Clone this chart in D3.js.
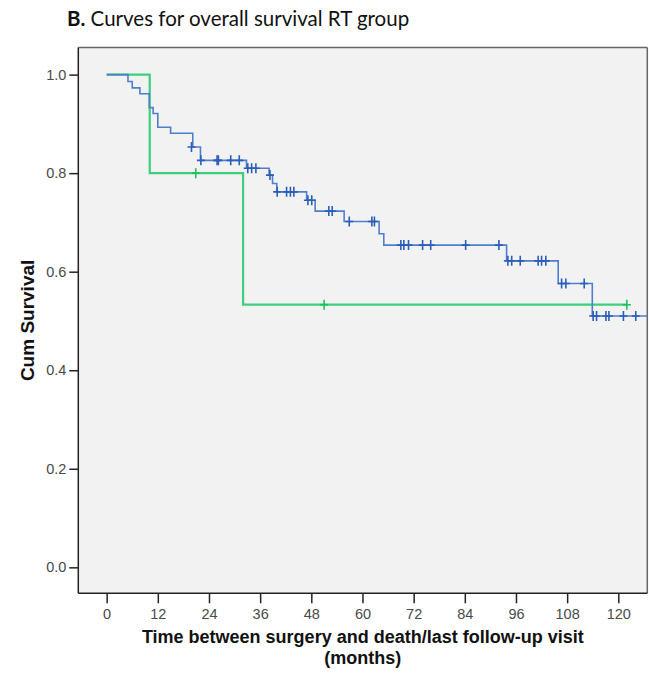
<!DOCTYPE html>
<html><head><meta charset="utf-8">
<script src="https://cdn.jsdelivr.net/npm/d3@7"></script>
<style>body{margin:0;background:#fff}svg{display:block}</style>
</head><body>
<svg id="c" width="649" height="678"></svg>
<script>
// ---- data ----
const xTicks = [0, 12, 24, 36, 48, 60, 72, 84, 96, 108, 120];
const yTicks = [0.0, 0.2, 0.4, 0.6, 0.8, 1.0];
// blue group (RT) step times and survival after each step
const blueTimes = [0, 5.0, 6.0, 7.8, 10.0, 10.9, 12.0, 15.0, 20.2, 22.0, 32.8, 38.1, 38.9, 39.9, 46.9, 48.9, 55.7, 63.9, 65.0, 93.8, 105.9, 113.9];
const blueSurv  = [1.0, 0.986, 0.973, 0.961, 0.933, 0.921, 0.893, 0.881, 0.853, 0.826, 0.810, 0.796, 0.779, 0.762, 0.745, 0.723, 0.702, 0.677, 0.654, 0.622, 0.576, 0.510];
const blueEnd = 127;
const blueCensT = [19.9, 22.1, 25.9, 26.2, 29.1, 31.1, 33.1, 34.0, 35.0, 38.3, 40.0, 42.2, 43.1, 43.9, 47.2, 48.1, 52.1, 52.9, 56.9, 62.2, 62.8, 69.0, 69.7, 70.8, 74.1, 76.0, 84.2, 92.0, 94.1, 95.0, 97.0, 101.2, 102.0, 103.0, 106.7, 107.7, 112.0, 114.1, 114.9, 117.1, 117.8, 121.2, 124.1];
const blueCensS = [0.853, 0.826, 0.826, 0.826, 0.826, 0.826, 0.810, 0.810, 0.810, 0.796, 0.762, 0.762, 0.762, 0.762, 0.745, 0.745, 0.723, 0.723, 0.702, 0.702, 0.702, 0.654, 0.654, 0.654, 0.654, 0.654, 0.654, 0.654, 0.622, 0.622, 0.622, 0.622, 0.622, 0.622, 0.576, 0.576, 0.576, 0.510, 0.510, 0.510, 0.510, 0.510, 0.510];
// green group
const greenTimes = [0, 10.1, 32.0];
const greenSurv  = [1.0, 0.8, 0.533];
const greenEnd = 122.0;
const greenCensT = [20.9, 51.0, 122.0];
const greenCensS = [0.8, 0.533, 0.533];

// ---- layout ----
const L = 78.3, R = 647.3, T = 47.5, B = 593.3;
const svg = d3.select("#c");
const x = d3.scaleLinear().domain([-6.65, 126.8]).range([L, R]);
const y = d3.scaleLinear().domain([-0.0527, 1.055]).range([B, T]);

svg.append("text").attr("x", 67).attr("y", 26)
  .style("font-family", "Lato, 'Open Sans', sans-serif").style("font-size", "20.5px").attr("fill", "#111")
  .call(t => { t.append("tspan").attr("font-weight", "bold").text("B.");
               t.append("tspan").text(" Curves for overall survival RT group"); });

svg.append("rect").attr("x", L).attr("y", T).attr("width", R - L).attr("height", B - T).attr("fill", "#f2f2f2");

svg.append("clipPath").attr("id", "pc").append("rect")
  .attr("x", L).attr("y", T).attr("width", R - L).attr("height", B - T);
const g = svg.append("g").attr("clip-path", "url(#pc)");

const line = d3.line().curve(d3.curveStepAfter).x(d => x(d[0])).y(d => y(d[1]));

function drawGroup(times, surv, end, cT, cS, col, markCol, w) {
  const pts = times.map((t, i) => [t, surv[i]]);
  pts.push([end, surv[surv.length - 1]]);
  g.append("path").attr("d", line(pts)).attr("fill", "none").attr("stroke", col).attr("stroke-width", w);
  const m = g.append("g");
  cT.forEach((t, i) => {
    const cx = x(t), cy = y(cS[i]);
    m.append("line").attr("x1", cx).attr("x2", cx).attr("y1", cy - 5).attr("y2", cy + 5)
      .attr("stroke", markCol).attr("stroke-width", 1.6);
    m.append("line").attr("x1", cx - 4).attr("x2", cx + 4).attr("y1", cy).attr("y2", cy)
      .attr("stroke", markCol).attr("stroke-width", 1.6);
  });
}
drawGroup(greenTimes, greenSurv, greenEnd, greenCensT, greenCensS, "#3ccf7c", "#1fbf5f", 2.2);
drawGroup(blueTimes, blueSurv, blueEnd, blueCensT, blueCensS, "#4f7fcc", "#2a5eb8", 1.6);

// frame
svg.append("line").attr("x1", L).attr("x2", R).attr("y1", T).attr("y2", T).attr("stroke", "#666").attr("stroke-width", 1.5);
svg.append("line").attr("x1", R).attr("x2", R).attr("y1", T).attr("y2", B).attr("stroke", "#666").attr("stroke-width", 1.5);
svg.append("line").attr("x1", L).attr("x2", L).attr("y1", T).attr("y2", B).attr("stroke", "#222").attr("stroke-width", 1.5);
svg.append("line").attr("x1", L).attr("x2", R).attr("y1", B).attr("y2", B).attr("stroke", "#222").attr("stroke-width", 1.5);

const axFont = "'Liberation Sans', Arial, sans-serif";
const ya = svg.append("g").attr("transform", `translate(${L},0)`)
  .call(d3.axisLeft(y).tickValues(yTicks).tickFormat(d3.format(".1f")).tickSize(9).tickPadding(3));
const xa = svg.append("g").attr("transform", `translate(0,${B})`)
  .call(d3.axisBottom(x).tickValues(xTicks).tickSize(10).tickPadding(5));
[ya, xa].forEach(a => {
  a.select(".domain").remove();
  a.selectAll(".tick line").attr("stroke", "#222").attr("stroke-width", 1.5);
  a.selectAll("text").style("font-family", axFont).style("font-size", "14.5px").attr("fill", "#4a4a4a");
});

svg.append("text").attr("transform", `translate(34,${(T + B) / 2}) rotate(-90)`).attr("text-anchor", "middle")
  .style("font-family", axFont).style("font-weight", "bold").style("font-size", "19px").attr("fill", "#111")
  .text("Cum Survival");
svg.append("text").attr("x", (L + R) / 2).attr("y", 643).attr("text-anchor", "middle")
  .style("font-family", axFont).style("font-weight", "bold").style("font-size", "18px").attr("fill", "#111")
  .text("Time between surgery and death/last follow-up visit");
svg.append("text").attr("x", (L + R) / 2).attr("y", 664).attr("text-anchor", "middle")
  .style("font-family", axFont).style("font-weight", "bold").style("font-size", "18px").attr("fill", "#111")
  .text("(months)");
</script>
</body></html>
